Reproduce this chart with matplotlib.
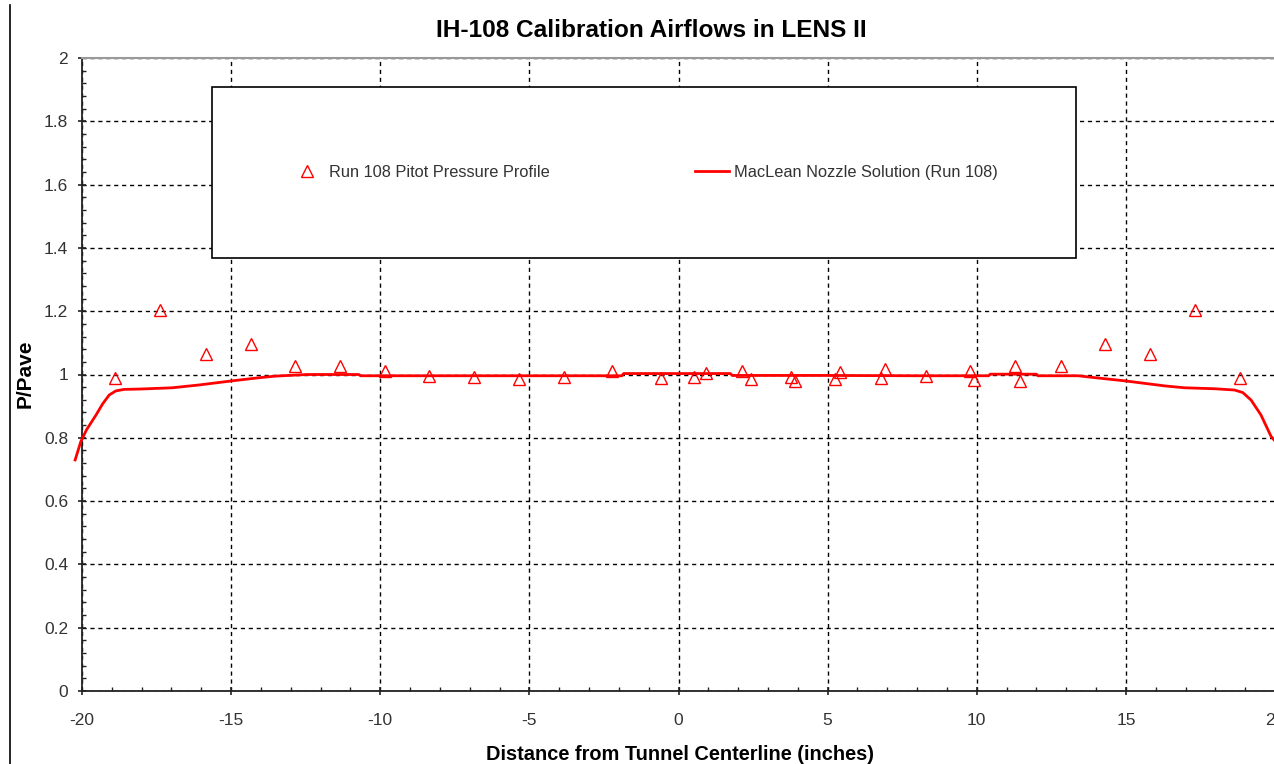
import matplotlib
matplotlib.use("Agg")
import matplotlib.pyplot as plt
from matplotlib.lines import Line2D
from matplotlib.ticker import MultipleLocator

plt.rcParams['font.family'] = ['Liberation Sans', 'DejaVu Sans']

# Measured pitot pressure profile, run 108
pitot_x = [-18.89, -17.38, -15.85, -14.34, -12.87, -11.35, -9.85, -8.35, -6.84,
           -5.34, -3.83, -2.23, -0.59, 0.52, 0.92, 2.14, 2.42, 3.76, 3.91,
           5.25, 5.42, 6.79, 6.92, 8.29, 9.79, 9.91, 11.28, 11.44, 12.82,
           14.29, 15.80, 17.33, 18.81]
pitot_y = [0.988, 1.204, 1.065, 1.096, 1.027, 1.027, 1.012, 0.995, 0.993,
           0.986, 0.992, 1.012, 0.989, 0.991, 1.004, 1.012, 0.986, 0.991, 0.980,
           0.986, 1.008, 0.990, 1.016, 0.996, 1.012, 0.983, 1.027, 0.979, 1.027,
           1.096, 1.065, 1.204, 0.988]

# MacLean nozzle solution for run 108
nozzle_x = [-20.23, -20.04, -19.85, -19.53, -19.31, -19.09, -18.87, -18.59, -18.08,
            -16.98, -16.07, -14.96, -13.95, -13.5, -12.45, -10.72, -10.66, -5.0,
            -1.9, -1.84, 0.0, 1.74, 1.8, 5.0, 8.0, 10.4, 10.45, 12.0, 12.05, 13.4,
            13.96, 14.96, 16.3, 16.97, 17.97, 18.64, 18.92, 19.2, 19.53, 19.87, 20.0]
nozzle_y = [0.730, 0.788, 0.825, 0.872, 0.907, 0.935, 0.948, 0.953, 0.954,
            0.958, 0.967, 0.980, 0.991, 0.995, 1.000, 1.000, 0.996, 0.996,
            0.996, 1.003, 1.003, 1.003, 0.997, 0.997, 0.996, 0.996, 1.001, 1.001, 0.996, 0.996,
            0.990, 0.980, 0.964, 0.958, 0.955, 0.951, 0.943, 0.919, 0.872, 0.804, 0.790]

x_ticks = [-20, -15, -10, -5, 0, 5, 10, 15, 20]
y_ticks = [0, 0.2, 0.4, 0.6, 0.8, 1, 1.2, 1.4, 1.6, 1.8, 2]

W, H = 1274, 764
fig = plt.figure(figsize=(W / 100, H / 100), dpi=100)
ax = fig.add_axes([82 / W, (H - 691) / H, 1193 / W, 633 / H])

ax.plot(nozzle_x, nozzle_y, color='#ff0000', lw=2.0, clip_on=False,
        label='MacLean Nozzle Solution (Run 108)', zorder=3)
ax.plot(pitot_x, pitot_y, linestyle='none', marker='^', ms=8.5,
        markerfacecolor='none', markeredgecolor='#ff0000', mew=1.0,
        label='Run 108 Pitot Pressure Profile', zorder=4)

ax.set_xlim(-20, 20)
ax.set_ylim(0, 2)
ax.set_xticks(x_ticks)
ax.set_xticklabels([f"{v:g}" for v in x_ticks])
ax.set_yticks(y_ticks)
ax.set_yticklabels([f"{v:g}" for v in y_ticks])
ax.xaxis.set_minor_locator(MultipleLocator(1))
ax.yaxis.set_minor_locator(MultipleLocator(0.04))
ax.tick_params(which='major', direction='inout', length=6, width=1.2,
               labelsize=12.5, labelcolor='#333333', color='#222222')
ax.tick_params(which='minor', direction='in', length=3, width=1.0, color='#222222')
ax.tick_params(axis='y', which='major', pad=7)
ax.tick_params(axis='x', which='major', pad=12.5)

ax.grid(True, which='major', color='black', linestyle=(0, (3, 2.7)), linewidth=1.0)
ax.set_axisbelow(True)

for side in ('left', 'bottom'):
    ax.spines[side].set_color('#222222')
    ax.spines[side].set_linewidth(1.3)
ax.spines['top'].set_color('#999999')
ax.spines['top'].set_linewidth(1.5)
ax.spines['right'].set_visible(False)

fig.text(651 / W, (H - 37) / H, 'IH-108 Calibration Airflows in LENS II',
         fontsize=17.6, fontweight='bold', ha='center', va='baseline')
fig.text(680 / W, (H - 760) / H, 'Distance from Tunnel Centerline (inches)',
         fontsize=14.4, fontweight='bold', ha='center', va='baseline')
fig.text(25 / W, (H - 374) / H, 'P/Pave', fontsize=15, fontweight='bold',
         rotation=90, ha='center', va='center')

handles, labels = ax.get_legend_handles_labels()
leg = ax.legend(handles[::-1], labels[::-1], ncol=2,
                bbox_to_anchor=(212 / W, (H - 258) / H, 864 / W, 171 / H),
                bbox_transform=fig.transFigure, mode='expand', loc='center',
                frameon=True, fancybox=False, edgecolor='black', framealpha=1,
                fontsize=11.8, borderaxespad=0, handlelength=2.1,
                handletextpad=0.3, borderpad=4.75)
leg.get_frame().set_linewidth(1.2)
for txt in leg.get_texts():
    txt.set_color('#333333')

fig.add_artist(Line2D([10 / W, 10 / W], [0, (H - 5) / H], color='black',
                      lw=1.2, transform=fig.transFigure))

fig.savefig('out.png', dpi=100)
